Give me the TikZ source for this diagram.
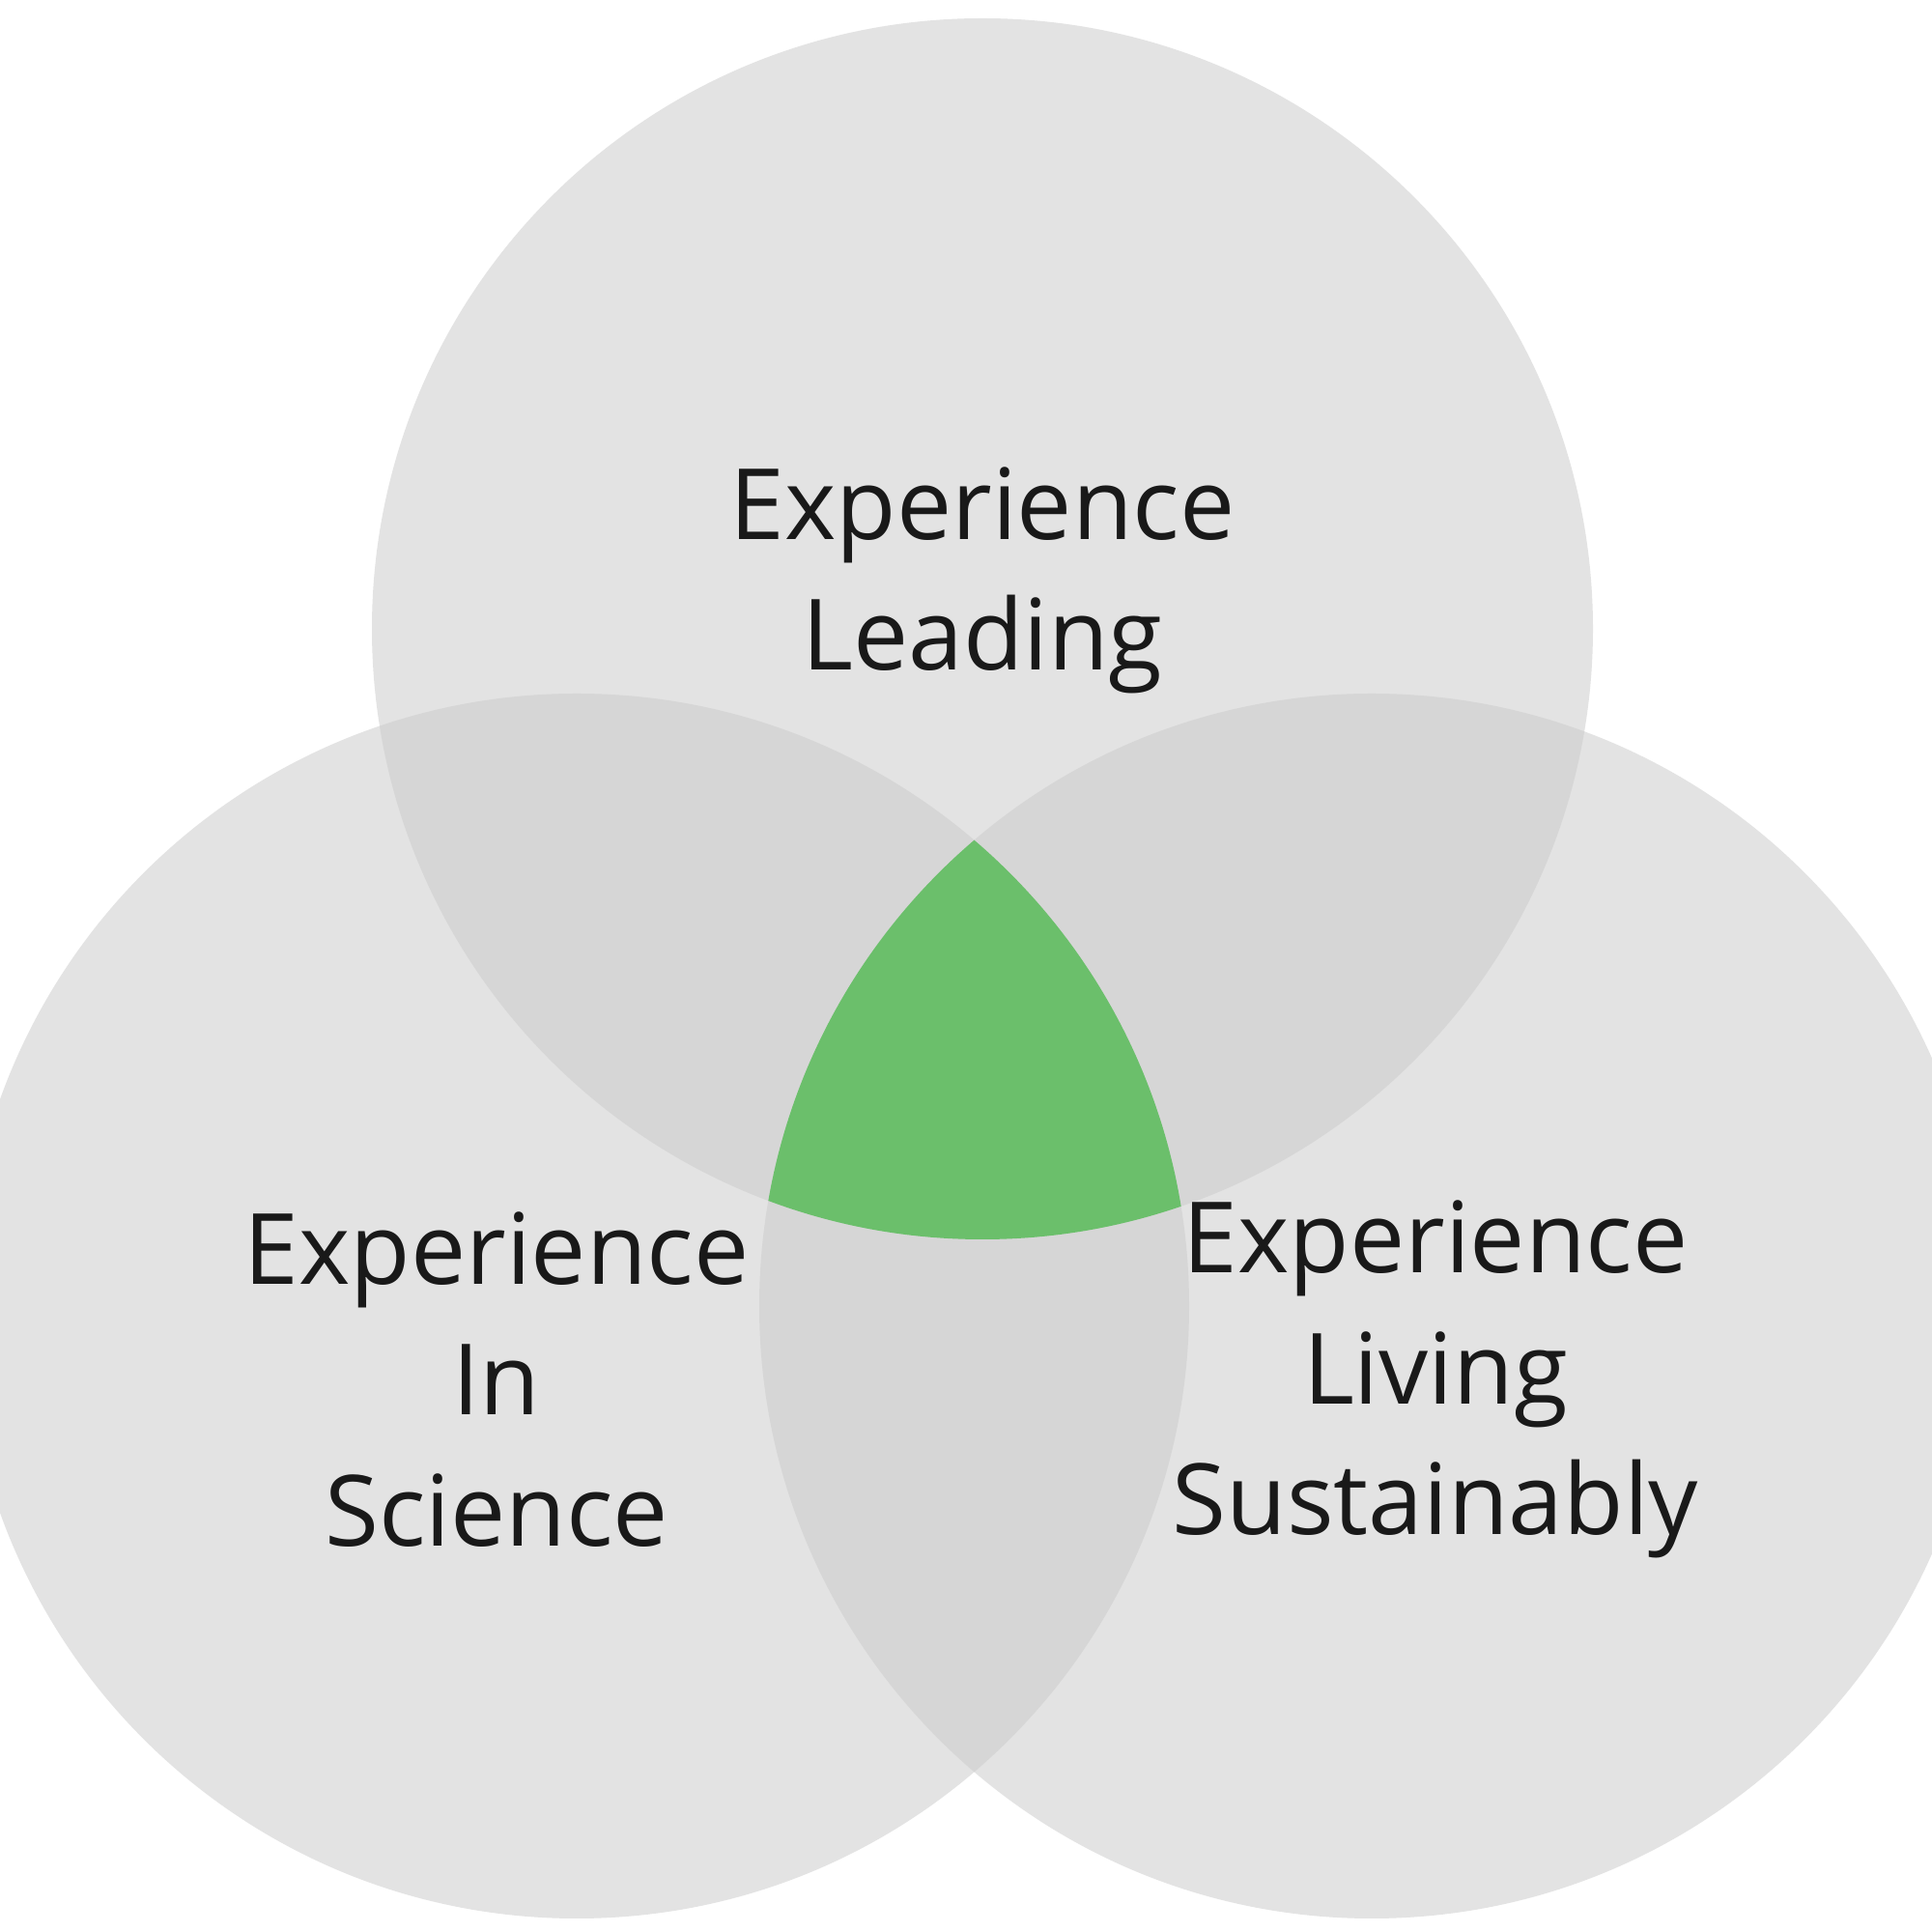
\documentclass[tikz,border=0pt]{standalone}
\usepackage{fontspec}
\setmainfont{Open Sans}
\definecolor{cbase}{HTML}{E3E3E3}
\definecolor{cover}{HTML}{D6D6D6}
\definecolor{cgreen}{HTML}{6BBF6B}
\begin{document}
\begin{tikzpicture}
\useasboundingbox (0,0) rectangle (20,20);
\fill[white] (0,0) rectangle (20,20);
\def\T{(10.17,13.49) circle (6.32)}
\def\L{(5.97,6.48) circle (6.34)}
\def\R{(14.20,6.48) circle (6.34)}
\fill[cbase] \T; \fill[cbase] \L; \fill[cbase] \R;
\begin{scope}\clip \T; \fill[cover] \L; \fill[cover] \R;\end{scope}
\begin{scope}\clip \L; \fill[cover] \R;\end{scope}
\begin{scope}\clip \T; \clip \L; \fill[cgreen] \R;\end{scope}
\tikzset{lab/.style={align=center,font=\fontsize{29}{38.5}\selectfont,text=black!90}}
\node[lab] (top) at (10.17,13.99) {Experience\\Leading};
\node[lab] (left) at (5.14,5.72) {Experience\\In\\Science};
\node[lab] (right) at (14.86,5.72) {Experience\\Living\\Sustainably};
\end{tikzpicture}
\end{document}
